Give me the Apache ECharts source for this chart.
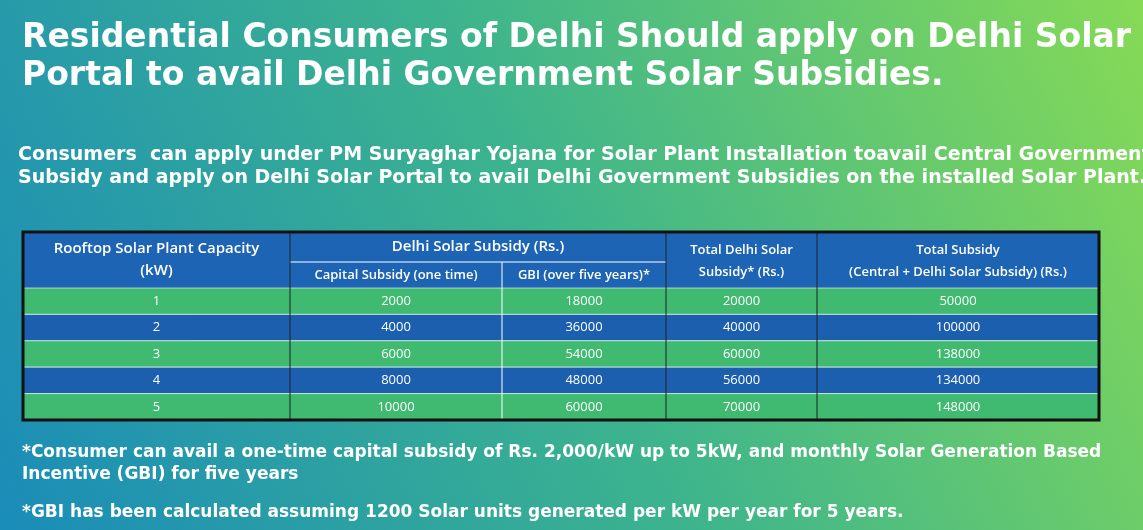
<!DOCTYPE html>
<html>
<head>
<meta charset="utf-8">
<script src="https://cdn.jsdelivr.net/npm/echarts@6/dist/echarts.min.js"></script>
<style>
  html, body { margin: 0; padding: 0; }
  #main { width: 1143px; height: 530px; }
</style>
</head>
<body>
<div id="main"></div>
<script>
const capacity = ["1", "2", "3", "4", "5"];
const capitalSubsidy = [2000, 4000, 6000, 8000, 10000];
const gbi = [18000, 36000, 54000, 48000, 60000];
const totalDelhi = [20000, 40000, 60000, 56000, 70000];
const totalSubsidy = [50000, 100000, 138000, 134000, 148000];

const myChart = echarts.init(document.getElementById("main"));

// table geometry (pixels inside the table grid)
const colEdges = [0, 267, 479, 643, 794, 1076];
const tableLeft = 23, tableTop = 232, headTop = 56;
const blue = "#1b5fae", green = "#3fba70", headBlue = "#1e64b4";
const font = "'Open Sans', 'Noto Sans', sans-serif";
const wide = "'DejaVu Sans', sans-serif";

const columns = [capacity, capitalSubsidy, gbi, totalDelhi, totalSubsidy];

function txt(x, y, text, size) {
  return {
    type: "text", x: x, y: y,
    style: { text: text, fill: "#fff", font: "bold " + size + "px " + wide, textAlign: "left", textVerticalAlign: "middle" }
  };
}
function ctext(x, y, text, size) {
  return {
    type: "text", x: x, y: y,
    style: { text: text, fill: "#fff", font: "600 " + size + "px " + font, textAlign: "center", textVerticalAlign: "middle", lineHeight: 22 }
  };
}

const L = tableLeft;
const cx = (i) => L + (colEdges[i] + colEdges[i + 1]) / 2;

const graphics = [
  txt(22, 38, "Residential Consumers of Delhi Should apply on Delhi Solar", 33),
  txt(22, 76, "Portal to avail Delhi Government Solar Subsidies.", 33),
  txt(18, 155, "Consumers  can apply under PM Suryaghar Yojana for Solar Plant Installation toavail Central Government", 19),
  txt(18, 178, "Subsidy and apply on Delhi Solar Portal to avail Delhi Government Subsidies on the installed Solar Plant.", 19),
  { type: "rect", shape: { x: L, y: tableTop, width: 1076, height: headTop }, style: { fill: headBlue } },
  { type: "line", shape: { x1: L + colEdges[1], y1: tableTop + 30, x2: L + colEdges[3], y2: tableTop + 30 }, style: { stroke: "#fff", lineWidth: 1 } },
  ctext(cx(0), tableTop + 28, "Rooftop Solar Plant Capacity\n(kW)", 15),
  ctext((L + colEdges[1] + L + colEdges[3]) / 2, tableTop + 15, "Delhi Solar Subsidy (Rs.)", 15),
  ctext(cx(1), tableTop + 43, "Capital Subsidy (one time)", 13),
  ctext(cx(2), tableTop + 43, "GBI (over five years)*", 13),
  ctext(cx(3), tableTop + 29, "Total Delhi Solar\nSubsidy* (Rs.)", 13),
  ctext(cx(4), tableTop + 29, "Total Subsidy\n(Central + Delhi Solar Subsidy) (Rs.)", 13),
  txt(22, 453, "*Consumer can avail a one-time capital subsidy of Rs. 2,000/kW up to 5kW, and monthly Solar Generation Based", 17),
  txt(22, 475, "Incentive (GBI) for five years", 17),
  txt(22, 513, "*GBI has been calculated assuming 1200 Solar units generated per kW per year for 5 years.", 17),
  { type: "rect", z: 100, shape: { x: L, y: tableTop, width: 1076, height: 188 }, style: { fill: null, stroke: "#111", lineWidth: 3 } }
];
[1, 2, 3, 4].forEach((i) => {
  const top = (i === 2) ? tableTop + 30 : tableTop;
  graphics.push({ type: "line", z: 50, shape: { x1: L + colEdges[i], y1: top, x2: L + colEdges[i], y2: tableTop + 188 }, style: { stroke: i === 2 ? "#fff" : "#222", lineWidth: 1 } });
});

const rows = capacity.map((c, r) => [r]);

const options = {
  backgroundColor: new echarts.graphic.LinearGradient(0, 1, 1, 0, [
    { offset: 0, color: "#1a8cb9" },
    { offset: 0.5, color: "#3db48d" },
    { offset: 1, color: "#86da55" }
  ]),
  grid: { left: L, top: tableTop + headTop, width: 1076, height: 132 },
  xAxis: { type: "value", min: 0, max: 1076, show: false },
  yAxis: { type: "category", data: capacity, inverse: true, show: false },
  graphic: graphics,
  series: [{
    type: "custom",
    data: rows,
    encode: { y: 0 },
    renderItem: (params, api) => {
      const r = api.value(0);
      const p0 = api.coord([0, r]);
      const h = api.size([0, 1])[1];
      const y = p0[1] - h / 2;
      const children = [{
        type: "rect",
        shape: { x: p0[0], y: y, width: 1076, height: h },
        style: { fill: r % 2 === 0 ? green : blue, stroke: "rgba(255,255,255,0.6)", lineWidth: 1 }
      }];
      columns.forEach((col, i) => {
        const a = api.coord([colEdges[i], r])[0];
        const b = api.coord([colEdges[i + 1], r])[0];
        children.push({
          type: "text",
          style: { x: (a + b) / 2, y: p0[1], text: String(col[r]), fill: "#fff", font: "500 13px " + font, textAlign: "center", textVerticalAlign: "middle" }
        });
      });
      return { type: "group", children: children };
    }
  }]
};

myChart.setOption(options);
</script>
</body>
</html>
